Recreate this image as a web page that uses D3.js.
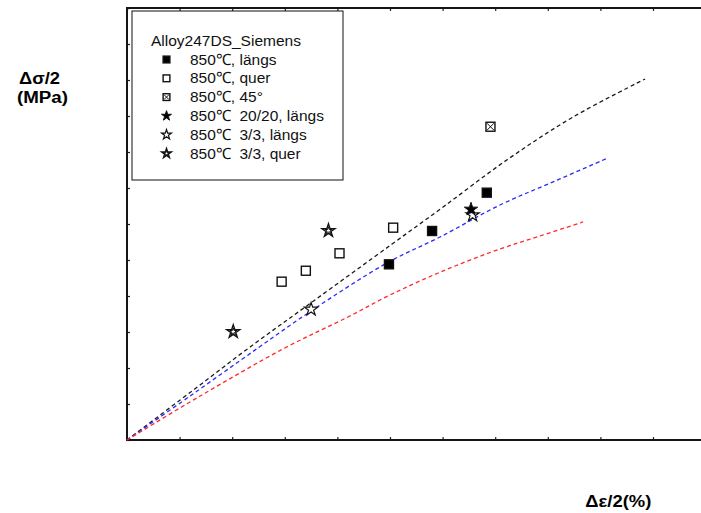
<!DOCTYPE html>
<html>
<head>
<meta charset="utf-8">
<script src="https://cdn.jsdelivr.net/npm/d3@7"></script>
<style>
  html, body { margin: 0; padding: 0; background: #fff; }
  svg { display: block; }
  text { font-family: "Liberation Sans", Arial, sans-serif; white-space: pre; }
</style>
</head>
<body>
<svg id="chart" width="701" height="513"></svg>
<script>
// Cyclic strain amplitude (%) vs. stress amplitude (MPa), Alloy 247 DS at 850 °C

// Model curves (dashed)
const curveBlackX = [0, 0.120, 0.234, 0.352, 0.504, 0.601, 0.722, 0.848, 0.985];
const curveBlackY = [0, 66.0, 129.2, 191.7, 272.2, 323.6, 388.9, 448.6, 501.4];
const curveBlueX  = [0, 0.120, 0.249, 0.350, 0.494, 0.595, 0.709, 0.814, 0.914];
const curveBlueY  = [0, 61.1, 127.8, 179.2, 245.8, 281.9, 326.4, 359.7, 391.7];
const curveRedX   = [0, 0.139, 0.300, 0.420, 0.500, 0.605, 0.709, 0.785, 0.867];
const curveRedY   = [0, 61.1, 127.8, 170.8, 201.4, 236.1, 265.3, 283.3, 302.8];

// Measured points
const laengsX = [0.498, 0.580, 0.684];
const laengsY = [244.0, 290.3, 343.5];
const querX   = [0.294, 0.340, 0.404, 0.506];
const querY   = [219.9, 235.1, 259.3, 294.9];
const deg45X  = [0.691];
const deg45Y  = [435.1];
const hold20X = [0.654];
const hold20Y = [320.4];
const hold3LX = [0.350, 0.657];
const hold3LY = [181.5, 312.5];
const hold3QX = [0.202, 0.383];
const hold3QY = [150.4, 290.7];

const legendTitle = "Alloy247DS_Siemens";
const legendLabels = [
  "850\u2103, längs",
  "850\u2103, quer",
  "850\u2103, 45°",
  "850\u2103  20/20, längs",
  "850\u2103  3/3, längs",
  "850\u2103  3/3, quer"
];

const xTicks = d3.range(0, 1.11, 0.1);
const yTicks = d3.range(0, 601, 50);

const svg = d3.select("#chart");
const plotLeft = 127, plotTop = 8, plotBottom = 440;
const x = d3.scaleLinear().domain([0, 1.1]).range([plotLeft, plotLeft + 578.6]);
const y = d3.scaleLinear().domain([0, 600]).range([plotBottom, plotTop]);

// Inward ticks on all four sides, no numbers
const tk = 3;
svg.append("g").attr("transform", `translate(0,${plotBottom})`)
  .call(d3.axisBottom(x).tickValues(xTicks).tickFormat("").tickSizeInner(-tk).tickSizeOuter(0))
  .call(g => g.select(".domain").remove());
svg.append("g").attr("transform", `translate(0,${plotTop})`)
  .call(d3.axisTop(x).tickValues(xTicks).tickFormat("").tickSizeInner(-tk).tickSizeOuter(0))
  .call(g => g.select(".domain").remove());
svg.append("g").attr("transform", `translate(${plotLeft},0)`)
  .call(d3.axisLeft(y).tickValues(yTicks).tickFormat("").tickSizeInner(-tk).tickSizeOuter(0))
  .call(g => g.select(".domain").remove());
svg.selectAll(".tick line").attr("stroke", "#222").attr("stroke-width", 1.2);

// Plot frame
svg.append("rect")
  .attr("x", x(0)).attr("y", y(600))
  .attr("width", x(1.1) - x(0)).attr("height", y(0) - y(600))
  .attr("fill", "none").attr("stroke", "#151515").attr("stroke-width", 2);

// Dashed curves
const line = d3.line().x(d => x(d[0])).y(d => y(d[1])).curve(d3.curveCatmullRom.alpha(0.5));
const curves = [
  [curveBlackX, curveBlackY, "#1a1a1a"],
  [curveBlueX, curveBlueY, "#2a2aff"],
  [curveRedX, curveRedY, "#ff2a2a"]
];
curves.forEach(([xs, ys, c]) => {
  svg.append("path")
    .datum(d3.zip(xs, ys))
    .attr("d", line)
    .attr("fill", "none")
    .attr("stroke", c)
    .attr("stroke-width", 1.3)
    .attr("stroke-dasharray", "4,3");
});

// Marker painters
function square(g, s, fill) {
  g.append("rect").attr("x", -s / 2).attr("y", -s / 2).attr("width", s).attr("height", s)
    .attr("fill", fill).attr("stroke", "#111").attr("stroke-width", 1.4);
}
function crossSquare(g, s) {
  square(g, s, "#fff");
  const h = s / 2 - 1;
  g.append("path").attr("d", `M${-h},${-h}L${h},${h}M${-h},${h}L${h},${-h}`)
    .attr("stroke", "#111").attr("stroke-width", 1);
}
function star(g, size, fill, sw) {
  g.append("path").attr("d", d3.symbol(d3.symbolStar, size)())
    .attr("fill", fill).attr("stroke", "#111").attr("stroke-width", sw);
}
function doubleStar(g, size) {
  star(g, size, "#fff", 1.3);
  g.append("path").attr("d", d3.symbol(d3.symbolStar, size * 0.3)())
    .attr("fill", "none").attr("stroke", "#111").attr("stroke-width", 1);
}

const painters = [
  (g, k) => square(g, 9 * k, "#000"),
  (g, k) => square(g, 9 * k, "#fff"),
  (g, k) => crossSquare(g, 9 * k),
  (g, k) => star(g, 55 * k * k, "#000", 1),
  (g, k) => star(g, 55 * k * k, "#fff", 1.2),
  (g, k) => doubleStar(g, 55 * k * k)
];

const series = [
  [laengsX, laengsY],
  [querX, querY],
  [deg45X, deg45Y],
  [hold3LX, hold3LY],
  [hold3QX, hold3QY],
  [hold20X, hold20Y]
];
const seriesPainter = [0, 1, 2, 4, 5, 3];
series.forEach(([xs, ys], i) => {
  d3.zip(xs, ys).forEach(p => {
    const g = svg.append("g").attr("transform", `translate(${x(p[0])},${y(p[1])})`);
    painters[seriesPainter[i]](g, 1);
  });
});

// Legend
const lg = svg.append("g");
lg.append("rect").attr("x", 132).attr("y", 11).attr("width", 211).attr("height", 169)
  .attr("fill", "#fff").attr("stroke", "#111").attr("stroke-width", 1);
lg.append("text").attr("x", 151).attr("y", 46).attr("font-size", 15.5).attr("fill", "#111")
  .text(legendTitle);
legendLabels.forEach((t, i) => {
  const yy = 64.5 + i * 18.8;
  const g = lg.append("g").attr("transform", `translate(166.5,${yy - 5})`);
  painters[i](g, 0.75);
  lg.append("text").attr("x", 190).attr("y", yy).attr("font-size", 15.5).attr("fill", "#111").text(t);
});

// Axis titles
function boldLabel(cx, by, len, t) {
  svg.append("text").attr("x", cx).attr("y", by).attr("text-anchor", "middle")
    .attr("font-size", 16).attr("font-weight", "bold")
    .attr("textLength", len).attr("lengthAdjust", "spacingAndGlyphs").text(t);
}
boldLabel(39.5, 83.5, 41, "\u0394\u03c3/2");
boldLabel(42.5, 102.5, 51, "(MPa)");
boldLabel(618.3, 506.5, 66, "\u0394\u03b5/2(%)");
</script>
</body>
</html>
